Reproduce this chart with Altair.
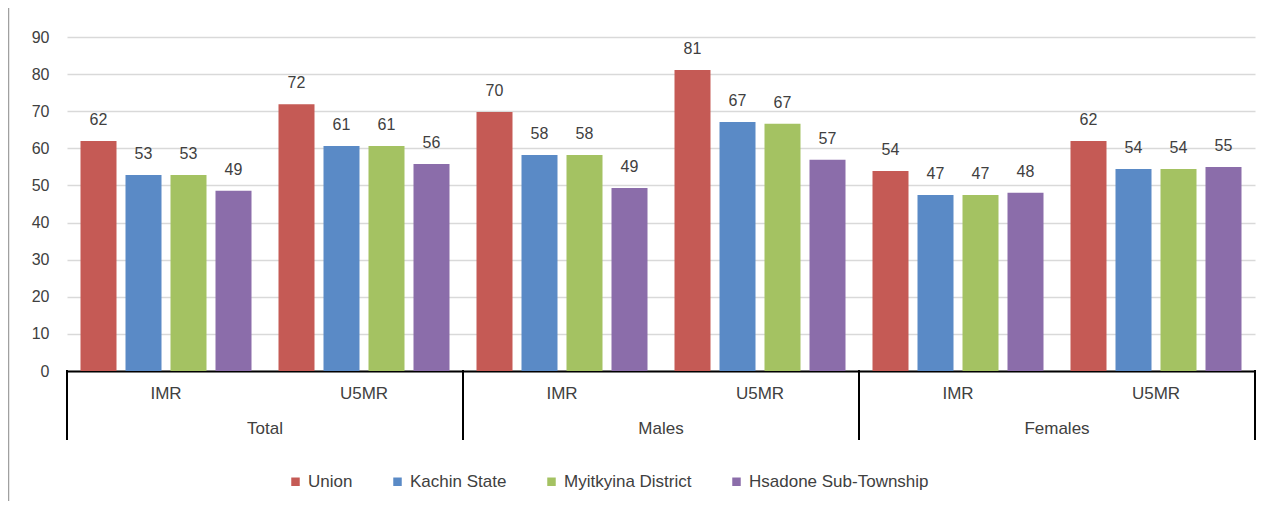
import altair as alt
import pandas as pd

groups = ["Total|IMR", "Total|U5MR", "Males|IMR", "Males|U5MR", "Females|IMR", "Females|U5MR"]
series = ["Union", "Kachin State", "Myitkyina District", "Hsadone Sub-Township"]
colors = ["#C55A55", "#5A8AC6", "#A4C262", "#8B6DAA"]

union = [62.0, 71.9, 69.8, 81.1, 53.9, 62.0]
kachin = [52.8, 60.6, 58.2, 67.1, 47.4, 54.4]
myitkyina = [52.8, 60.6, 58.2, 66.6, 47.4, 54.4]
hsadone = [48.6, 55.8, 49.3, 56.9, 48.0, 55.0]

main_cats = ["Total", "Males", "Females"]
main_first = ["Total|IMR", "Males|IMR", "Females|IMR"]
y_ticks = [0, 10, 20, 30, 40, 50, 60, 70, 80, 90]

rows = []
for s, vals in zip(series, [union, kachin, myitkyina, hsadone]):
    for g, v in zip(groups, vals):
        rows.append({"grp": g, "series": s, "value": v})
df = pd.DataFrame(rows)

W, H = 1188, 334
FONT = "Liberation Sans"
TXT = "#404040"

xscale = alt.Scale(domain=groups, paddingInner=0, paddingOuter=0)

base = alt.Chart(df).encode(
    x=alt.X("grp:N", sort=groups, scale=xscale,
            axis=alt.Axis(title=None, labelAngle=0, ticks=False,
                          labelExpr="split(datum.label, '|')[1]",
                          domainColor="#000000", domainWidth=2,
                          labelPadding=14, labelFontSize=17, labelColor=TXT,
                          labelFont=FONT)),
    xOffset=alt.XOffset("series:N", sort=series,
                        scale=alt.Scale(paddingInner=0.2, paddingOuter=0.3)),
    y=alt.Y("value:Q", scale=alt.Scale(domain=[0, 90], nice=False),
            axis=alt.Axis(title=None, values=y_ticks, domain=False,
                          ticks=False, gridColor="#D9D9D9", gridWidth=1.5,
                          labelOverlap=False,
                          labelPadding=18, labelFontSize=16, labelColor=TXT,
                          labelFont=FONT)),
)

bars = base.mark_bar().encode(
    color=alt.Color("series:N", sort=series,
                    scale=alt.Scale(domain=series, range=colors),
                    legend=alt.Legend(title=None, orient="none", direction="horizontal",
                                      legendX=220, legendY=436, symbolType="square",
                                      symbolSize=72, symbolStrokeWidth=0,
                                      labelFontSize=17, labelColor=TXT,
                                      labelFont=FONT, columnPadding=36,
                                      labelOffset=4, labelLimit=400)),
)

labels = base.mark_text(dy=-13, fontSize=16, color=TXT, font=FONT,
                        baseline="bottom").encode(
    text=alt.Text("value:Q", format=".0f"),
)

sep_left = alt.Chart(pd.DataFrame({"grp": main_first})).mark_rule(
    color="#000000", strokeWidth=2).encode(
    x=alt.X("grp:N", sort=groups, scale=xscale, bandPosition=0),
    y=alt.value(H - 1),
    y2=alt.value(H + 69),
)
sep_right = alt.Chart(pd.DataFrame({"grp": [groups[-1]]})).mark_rule(
    color="#000000", strokeWidth=2).encode(
    x=alt.X("grp:N", sort=groups, scale=xscale, bandPosition=1),
    y=alt.value(H - 1),
    y2=alt.value(H + 69),
)

main_text = alt.Chart(pd.DataFrame({"grp": main_first, "cat": main_cats})).mark_text(
    fontSize=17, color=TXT, font=FONT, baseline="middle").encode(
    x=alt.X("grp:N", sort=groups, scale=xscale, bandPosition=1),
    y=alt.value(H + 58),
    text="cat:N",
)

border = alt.Chart(pd.DataFrame({"a": [0]})).mark_rule(
    color="#A0A0A0", strokeWidth=1.5).encode(
    x=alt.value(-58.5),
    y=alt.value(-40),
    y2=alt.value(H + 140),
)

chart = alt.layer(bars, labels, sep_left, sep_right, main_text, border).properties(
    width=W, height=H,
    autosize=alt.AutoSizeParams(type="none"),
    padding={"left": 59, "top": 29, "right": 14, "bottom": 130},
).configure_view(stroke=None)

chart.save("out.html", embed_options={"renderer": "svg", "actions": False})
